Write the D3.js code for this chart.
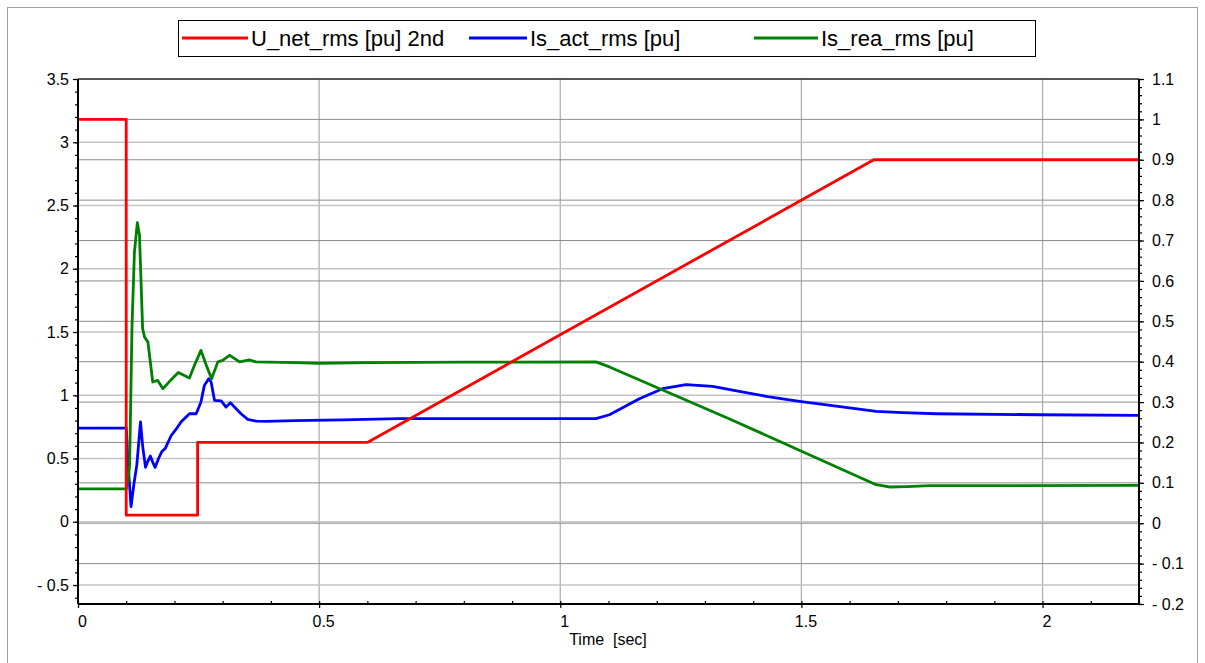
<!DOCTYPE html>
<html>
<head>
<meta charset="utf-8">
<script src="https://cdn.jsdelivr.net/npm/d3@7"></script>
<style>
  html, body { margin: 0; padding: 0; background: #fff; }
  svg { display: block; font-family: Arial, "Liberation Sans", sans-serif; }
  .tick-label { font-size: 16px; fill: #000; }
  .legend-text { font-size: 22px; fill: #000; }
</style>
</head>
<body>
<svg id="chart" width="1205" height="663"></svg>
<script>
(function () {
  "use strict";

  // Time axis
  const timeTicks = [0, 0.5, 1, 1.5, 2];
  const leftTicks = [-0.5, 0, 0.5, 1, 1.5, 2, 2.5, 3, 3.5];
  const rightTicks = [-0.2, -0.1, 0, 0.1, 0.2, 0.3, 0.4, 0.5, 0.6, 0.7, 0.8, 0.9, 1, 1.1];

  // U_net_rms [pu] 2nd (right axis)
  const uNetTime = [0, 0.1, 0.1, 0.248, 0.248, 0.6, 1.65, 2.2];
  const uNetValue = [1, 1, 0.02, 0.02, 0.2, 0.2, 0.9, 0.9];

  // Is_act_rms [pu] (left axis)
  const isActTime = [0, 0.1, 0.104, 0.11, 0.116, 0.122, 0.1296, 0.134, 0.14, 0.145, 0.15, 0.155, 0.16,
    0.167, 0.174, 0.181, 0.193, 0.205, 0.214, 0.231, 0.245, 0.255, 0.262, 0.271, 0.276, 0.283, 0.297,
    0.307, 0.316, 0.328, 0.338, 0.352, 0.37, 0.39, 0.45, 0.55, 0.666, 0.8, 1.0, 1.074, 1.102, 1.164,
    1.212, 1.261, 1.316, 1.371, 1.43, 1.496, 1.58, 1.655, 1.71, 1.779, 1.993, 2.2];
  const isActValue = [0.74, 0.74, 0.45, 0.12, 0.3, 0.45, 0.79, 0.6, 0.43, 0.48, 0.52, 0.47, 0.43,
    0.5, 0.556, 0.58, 0.68, 0.74, 0.79, 0.854, 0.854, 0.947, 1.078, 1.13, 1.105, 0.96, 0.955,
    0.907, 0.94, 0.894, 0.854, 0.81, 0.795, 0.794, 0.8, 0.805, 0.815, 0.815, 0.815, 0.815, 0.846, 0.973,
    1.052, 1.084, 1.07, 1.031, 0.99, 0.952, 0.91, 0.873, 0.862, 0.854, 0.846, 0.841];

  // Is_rea_rms [pu] (left axis)
  const isReaTime = [0, 0.1, 0.104, 0.107, 0.112, 0.117, 0.123, 0.1275, 0.134, 0.138, 0.145, 0.155,
    0.165, 0.176, 0.19, 0.208, 0.231, 0.2415, 0.255, 0.266, 0.277, 0.29, 0.3, 0.314, 0.325, 0.335,
    0.355, 0.369, 0.45, 0.5, 0.6, 0.8, 1.074, 1.102, 1.35, 1.655, 1.682, 1.72, 1.765, 2.2];
  const isReaValue = [0.26, 0.26, 0.33, 0.445, 1.55, 2.13, 2.365, 2.265, 1.527, 1.46, 1.42, 1.105,
    1.118, 1.052, 1.11, 1.18, 1.137, 1.237, 1.355, 1.237, 1.13, 1.264, 1.276, 1.316, 1.29, 1.264,
    1.28, 1.264, 1.258, 1.252, 1.258, 1.262, 1.264, 1.224, 0.815, 0.293, 0.275, 0.278, 0.285, 0.287];

  const seriesNames = ["U_net_rms [pu] 2nd", "Is_act_rms [pu]", "Is_rea_rms [pu]"];
  const seriesColors = ["#ff0000", "#0000ff", "#008000"];

  const svg = d3.select("#chart");
  const plot = { left: 78, right: 1139, top: 79, bottom: 604 };

  const x = d3.scaleLinear().domain([0, 2.2]).range([plot.left, plot.right]);
  const yL = d3.scaleLinear().domain([-0.65, 3.5]).range([plot.bottom, plot.top]);
  const yR = d3.scaleLinear().domain([-0.2, 1.1]).range([plot.bottom, plot.top]);

  const fmt = v => {
    const r = Math.round(v * 100) / 100;
    return r < 0 ? "- " + String(-r) : String(r);
  };

  // outer frame
  svg.append("rect")
    .attr("x", 7.5).attr("y", 7.5)
    .attr("width", 1190).attr("height", 670)
    .attr("fill", "none").attr("stroke", "#a0a0a0");

  // grid
  const grid = svg.append("g");
  grid.selectAll(".vgrid")
    .data(timeTicks.filter(d => d > 0))
    .join("line")
    .attr("x1", d => x(d)).attr("x2", d => x(d))
    .attr("y1", plot.top).attr("y2", plot.bottom)
    .attr("stroke", "#b0b0b0").attr("stroke-width", 1.3);
  grid.selectAll(".lgrid")
    .data(leftTicks)
    .join("line")
    .attr("x1", plot.left).attr("x2", plot.right)
    .attr("y1", d => yL(d)).attr("y2", d => yL(d))
    .attr("stroke", "#c4c4c4").attr("stroke-width", 1.6);
  grid.selectAll(".rgrid")
    .data(rightTicks)
    .join("line")
    .attr("x1", plot.left).attr("x2", plot.right)
    .attr("y1", d => yR(d)).attr("y2", d => yR(d))
    .attr("stroke", "#8c8c8c").attr("stroke-width", 1);

  // curves
  const line = (ts, vs, y) => d3.line()
    .x(i => x(ts[i]))
    .y(i => y(vs[i]))(d3.range(ts.length));

  const curves = [
    { t: isActTime, v: isActValue, y: yL, c: seriesColors[1] },
    { t: isReaTime, v: isReaValue, y: yL, c: seriesColors[2] },
    { t: uNetTime, v: uNetValue, y: yR, c: seriesColors[0] }
  ];
  svg.append("g").selectAll("path")
    .data(curves)
    .join("path")
    .attr("d", d => line(d.t, d.v, d.y))
    .attr("fill", "none")
    .attr("stroke", d => d.c)
    .attr("stroke-width", 2.8)
    .attr("stroke-linejoin", "round");

  // axes
  const axes = svg.append("g");
  const leftMinor = d3.range(-0.6, 3.5001, 0.1);
  const rightMinor = d3.range(-0.2, 1.1001, 0.02);
  const xMinor = d3.range(0, 2.2001, 0.1);

  axes.append("g").attr("transform", `translate(${plot.left},0)`)
    .call(d3.axisLeft(yL).tickValues(leftMinor).tickSize(3).tickFormat(""));
  axes.append("g").attr("transform", `translate(${plot.left},0)`)
    .call(d3.axisLeft(yL).tickValues(leftTicks).tickSize(5).tickPadding(4).tickFormat(fmt));

  axes.append("g").attr("transform", `translate(${plot.right},0)`)
    .call(d3.axisRight(yR).tickValues(rightMinor).tickSize(3).tickFormat(""));
  axes.append("g").attr("transform", `translate(${plot.right},0)`)
    .call(d3.axisRight(yR).tickValues(rightTicks).tickSize(5).tickPadding(8).tickFormat(fmt));

  axes.append("g").attr("transform", `translate(0,${plot.bottom})`)
    .call(d3.axisTop(x).tickValues(xMinor).tickSize(3).tickFormat(""));
  const xAxis = axes.append("g").attr("transform", `translate(0,${plot.bottom})`)
    .call(d3.axisBottom(x).tickValues(timeTicks).tickSize(4).tickPadding(8).tickFormat(fmt));

  axes.selectAll(".domain").remove();
  axes.selectAll(".tick line").attr("stroke", "#000").attr("stroke-width", 1.2);
  axes.selectAll(".tick text")
    .attr("class", "tick-label")
    .attr("font-size", null)
    .attr("font-family", null);
  axes.selectAll("g").attr("font-size", null).attr("font-family", null);
  // bottom labels sit slightly right of their ticks
  xAxis.selectAll(".tick text").attr("dx", 4);

  // frame
  axes.append("line").attr("x1", plot.left).attr("x2", plot.right)
    .attr("y1", plot.top).attr("y2", plot.top).attr("stroke", "#000").attr("stroke-width", 1);
  axes.append("line").attr("x1", plot.left).attr("x2", plot.right)
    .attr("y1", plot.bottom).attr("y2", plot.bottom).attr("stroke", "#000").attr("stroke-width", 2);
  axes.append("line").attr("x1", plot.left).attr("x2", plot.left)
    .attr("y1", plot.top).attr("y2", plot.bottom).attr("stroke", "#000").attr("stroke-width", 2);
  axes.append("line").attr("x1", plot.right).attr("x2", plot.right)
    .attr("y1", plot.top).attr("y2", plot.bottom).attr("stroke", "#000").attr("stroke-width", 2);

  svg.append("text")
    .attr("class", "tick-label")
    .attr("x", 608).attr("y", 645)
    .attr("text-anchor", "middle")
    .style("white-space", "pre")
    .text("Time  [sec]");

  // legend
  const legend = svg.append("g");
  legend.append("rect")
    .attr("x", 178.5).attr("y", 20.5)
    .attr("width", 857).attr("height", 36)
    .attr("fill", "#fff").attr("stroke", "#000").attr("stroke-width", 1);
  const legendLineX = [182, 469, 754];
  const legendLineLen = [66, 58, 64];
  const items = legend.selectAll(".item")
    .data(seriesNames.map((n, i) => ({ n, c: seriesColors[i], x: legendLineX[i], w: legendLineLen[i] })))
    .join("g")
    .attr("transform", d => `translate(${d.x},0)`);
  items.append("line")
    .attr("x1", 0).attr("x2", d => d.w)
    .attr("y1", 38).attr("y2", 38)
    .attr("stroke", d => d.c).attr("stroke-width", 2.8);
  items.append("text")
    .attr("class", "legend-text")
    .attr("x", d => d.w + 3).attr("y", 46)
    .text(d => d.n);
})();
</script>
</body>
</html>
